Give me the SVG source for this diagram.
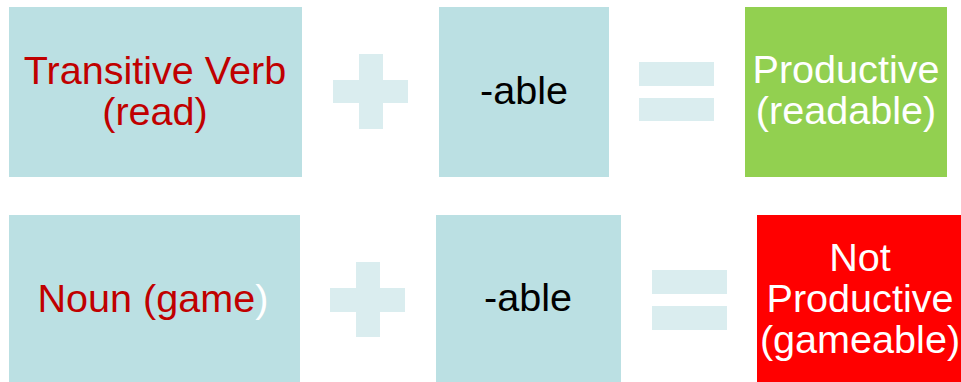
<svg xmlns="http://www.w3.org/2000/svg" width="961" height="382" viewBox="0 0 961 382">
<style>
.box{fill:#BBE0E3}
.sym{fill:#DAEDEF}
.t{font-family:"Liberation Sans",Arial,sans-serif;font-size:39.6px;text-anchor:middle}
.red{fill:#C00000}
.blk{fill:#000}
.wht{fill:#FFFFFF}
</style>
<rect width="961" height="382" fill="#FFFFFF"/>
<g id="row1-base">
<rect class="box" x="9" y="7" width="293" height="170"/>
<text class="t red" x="155" y="84">Transitive Verb</text>
<text class="t red" x="155" y="125">(read)</text>
</g>
<g id="row1-plus">
<rect class="sym" x="359" y="54" width="24" height="75"/>
<rect class="sym" x="333" y="80" width="75" height="23"/>
</g>
<g id="row1-suffix">
<rect class="box" x="439" y="7" width="170" height="170"/>
<text class="t blk" x="524" y="104">-able</text>
</g>
<g id="row1-equals">
<rect class="sym" x="639" y="62" width="75" height="24"/>
<rect class="sym" x="639" y="98" width="75" height="23"/>
</g>
<g id="row1-result">
<rect x="745" y="7" width="202" height="170" fill="#92D050"/>
<text class="t wht" x="846" y="83">Productive</text>
<text class="t wht" x="846" y="124">(readable)</text>
</g>
<g id="row2-base">
<rect class="box" x="9" y="215" width="291" height="167"/>
<text class="t red" x="153" y="312">Noun (game<tspan class="wht">)</tspan></text>
</g>
<g id="row2-plus">
<rect class="sym" x="356" y="262" width="24" height="75"/>
<rect class="sym" x="330" y="288" width="75" height="24"/>
</g>
<g id="row2-suffix">
<rect class="box" x="436" y="215" width="185" height="167"/>
<text class="t blk" x="528" y="311">-able</text>
</g>
<g id="row2-equals">
<rect class="sym" x="652" y="270" width="75" height="24"/>
<rect class="sym" x="652" y="306" width="75" height="24"/>
</g>
<g id="row2-result">
<rect x="757" y="215" width="204" height="167" fill="#FF0000"/>
<text class="t wht" x="860" y="271">Not</text>
<text class="t wht" x="860" y="312">Productive</text>
<text class="t wht" x="860" y="353">(gameable)</text>
</g>
<g id="connectors"></g>
</svg>
